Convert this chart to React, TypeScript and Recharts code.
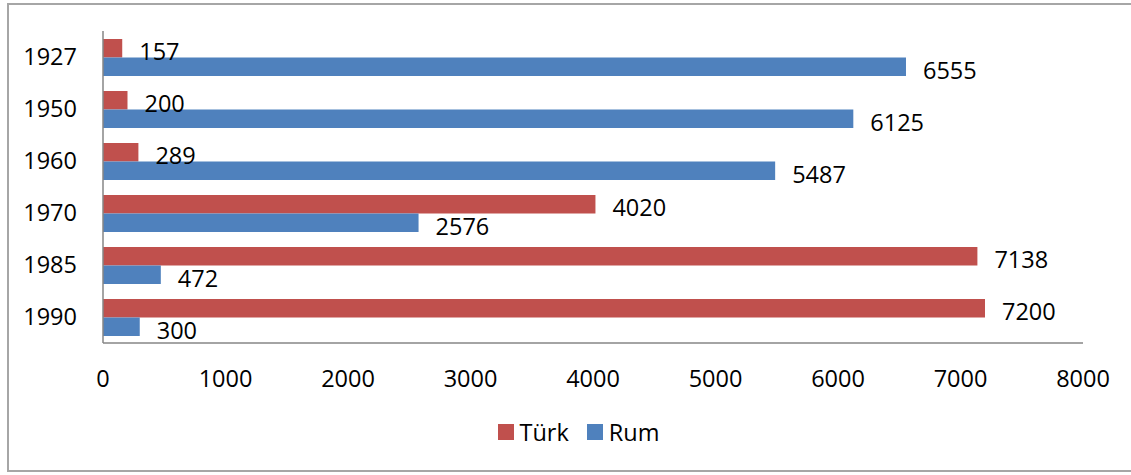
import React from 'react';
import { BarChart, Bar, XAxis, YAxis, Legend, LabelList } from 'recharts';

const years = ['1927', '1950', '1960', '1970', '1985', '1990'];
const turk = [157, 200, 289, 4020, 7138, 7200];
const rum = [6555, 6125, 5487, 2576, 472, 300];
const xTicks = [0, 1000, 2000, 3000, 4000, 5000, 6000, 7000, 8000];

const data = years.map((y, i) => ({ year: y, Türk: turk[i], Rum: rum[i] }));

const FONT = '"Open Sans", "Noto Sans", sans-serif';
const FS = 23.5;
const RED = '#C0504D';
const BLUE = '#4F81BD';

const renderLabel = (props: any) => {
  const { x, y, width, height, value } = props;
  return (
    <text
      x={Number(x) + Number(width) + 17}
      y={Number(y) + Number(height) / 2 + 3}
      dominantBaseline="central"
      textAnchor="start"
      fontFamily={FONT}
      fontSize={FS}
      fill="#000"
    >
      {value}
    </text>
  );
};

const renderLegend = () => (
  <div
    style={{
      height: 40,
      display: 'flex',
      justifyContent: 'center',
      alignItems: 'center',
      fontFamily: FONT,
      fontSize: FS,
      color: '#000',
      paddingLeft: 74,
      boxSizing: 'border-box',
    }}
  >
    <span style={{ display: 'inline-block', width: 16, height: 16, background: RED, marginRight: 6 }} />
    <span style={{ marginRight: 18 }}>Türk</span>
    <span style={{ display: 'inline-block', width: 16, height: 16, background: BLUE, marginRight: 6 }} />
    <span>Rum</span>
  </div>
);

export default function App() {
  return (
    <div style={{ position: 'absolute', left: 0, top: 0, width: 1131, height: 475, background: '#fff', overflow: 'hidden' }}>
      <div
        style={{
          position: 'absolute',
          left: 7,
          top: 3,
          width: 1124,
          height: 469,
          borderLeft: '2px solid #a6a6a6',
          borderTop: '2px solid #a6a6a6',
          borderBottom: '2px solid #a6a6a6',
          boxSizing: 'border-box',
        }}
      />
      <BarChart
        width={1131}
        height={475}
        data={data}
        layout="vertical"
        margin={{ top: 31, right: 48, left: 0, bottom: 23 }}
        barGap={0}
        barSize={18.5}
        style={{ position: 'absolute', left: 0, top: 0 }}
      >
        <XAxis
          type="number"
          domain={[0, 8000]}
          ticks={xTicks}
          interval={0}
          height={69}
          axisLine={{ stroke: '#868686', strokeWidth: 1.5 }}
          tickLine={false}
          tickSize={0}
          tickMargin={27}
          tick={{ fontFamily: FONT, fontSize: FS, fill: '#000' }}
        />
        <YAxis
          type="category"
          dataKey="year"
          width={103}
          axisLine={{ stroke: '#868686', strokeWidth: 1.5 }}
          tickLine={false}
          tickSize={0}
          tickMargin={26}
          tick={{ fontFamily: FONT, fontSize: FS, fill: '#000' }}
        />
        <Legend verticalAlign="bottom" content={renderLegend} />
        <Bar dataKey="Türk" fill={RED} isAnimationActive={false}>
          <LabelList dataKey="Türk" content={renderLabel} />
        </Bar>
        <Bar dataKey="Rum" fill={BLUE} isAnimationActive={false}>
          <LabelList dataKey="Rum" content={renderLabel} />
        </Bar>
      </BarChart>
    </div>
  );
}
